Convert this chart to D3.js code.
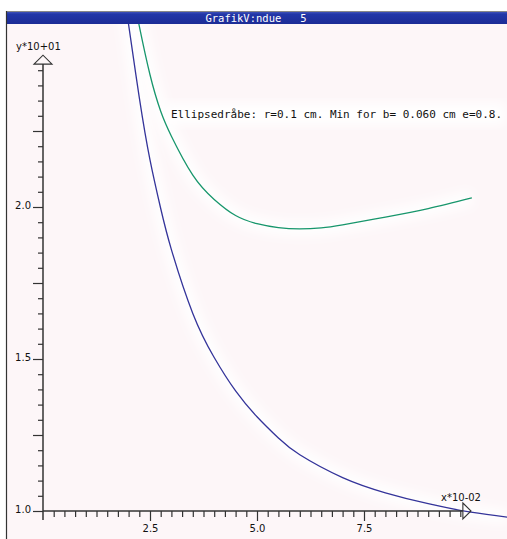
<!DOCTYPE html>
<html><head><meta charset="utf-8">
<script src="https://cdn.jsdelivr.net/npm/d3@7"></script>
<style>html,body{margin:0;padding:0;background:#fff;overflow:hidden}</style>
</head><body>
<script>
const title = "GrafikV:ndue   5";
const annotation = "Ellipsedråbe: r=0.1 cm. Min for b= 0.060 cm e=0.8.";
const yAxisTitle = "y*10+01";
const xAxisTitle = "x*10-02";
const xTickLabels = [2.5, 5.0, 7.5];
const yTickLabels = [1.0, 1.5, 2.0];
const yMajorTicks = [1.25, 1.75, 2.25];
const blueX = [1.93,2.0,2.25,2.5,2.75,3.0,3.5,4.0,4.5,5.0,5.5,6.0,7.0,8.0,9.0,10.0,10.85];
const blueY = [2.67,2.60,2.36,2.155,1.995,1.86,1.65,1.505,1.395,1.31,1.24,1.185,1.11,1.06,1.024,0.996,0.98];
const greenX = [2.2,2.25,2.5,2.75,3.0,3.5,4.0,4.5,5.0,5.5,6.0,6.5,7.0,8.0,9.0,10.02];
const greenY = [2.63,2.595,2.435,2.315,2.233,2.105,2.025,1.972,1.945,1.932,1.928,1.931,1.941,1.967,1.995,2.030];

const W = 507, H = 539;
const svg = d3.select("body").append("svg").attr("width", W).attr("height", H);
const defs = svg.append("defs");
const grad = defs.append("linearGradient").attr("id","tb").attr("x1",0).attr("y1",0).attr("x2",0).attr("y2",1);
grad.append("stop").attr("offset","0%").attr("stop-color","#4a5cc0");
grad.append("stop").attr("offset","25%").attr("stop-color","#2236a8");
grad.append("stop").attr("offset","100%").attr("stop-color","#1c2c96");
defs.append("clipPath").attr("id","clip").append("rect").attr("x",7).attr("y",24).attr("width",W-7).attr("height",H-24);
const blur = defs.append("filter").attr("id","glow").attr("x","-20%").attr("y","-20%").attr("width","140%").attr("height","140%");
blur.append("feGaussianBlur").attr("stdDeviation",6);

// window
svg.append("rect").attr("x",6).attr("y",12).attr("width",W-6).attr("height",H-12).attr("fill","#fdf6f8");
svg.append("rect").attr("x",6).attr("y",11).attr("width",W-6).attr("height",13).attr("fill","url(#tb)");
svg.append("line").attr("x1",6).attr("x2",W).attr("y1",11.5).attr("y2",11.5).attr("stroke","#888");
svg.append("line").attr("x1",6.5).attr("x2",6.5).attr("y1",11).attr("y2",H).attr("stroke","#333").attr("stroke-width",1.2);
svg.append("text").attr("x",256).attr("y",21.5).attr("text-anchor","middle").attr("fill","#fff")
  .attr("font-family","DejaVu Sans Mono").attr("font-size",10.5).attr("xml:space","preserve").text(title);

const x = d3.scaleLinear().domain([0,10]).range([43,471]);
const y = d3.scaleLinear().domain([1,2.5]).range([511,55]);

const g = svg.append("g").attr("clip-path","url(#clip)");
const blueData = blueX.map((v,i)=>[v,blueY[i]]);
const greenData = greenX.map((v,i)=>[v,greenY[i]]);
const lineB = d3.line().x(d=>x(d[0])).y(d=>y(d[1])).curve(d3.curveNatural);
// white halo
g.append("path").datum(blueData).attr("d",lineB).attr("fill","none").attr("stroke","#fff").attr("stroke-width",14).attr("filter","url(#glow)");
g.append("path").datum(greenData).attr("d",lineB).attr("fill","none").attr("stroke","#fff").attr("stroke-width",14).attr("filter","url(#glow)");
g.append("rect").attr("x",165).attr("y",103).attr("width",340).attr("height",22).attr("fill","#fff").attr("filter","url(#glow)");

// axes
const axisColor = "#333";
const yMinor = d3.range(1.05, 2.46, 0.05).map(v=>+v.toFixed(2)).filter(v=>![1.25,1.5,1.75,2.0,2.25].includes(v));
const gy1 = svg.append("g").attr("transform",`translate(${x(0)},0)`)
  .call(d3.axisLeft(y).tickValues(yMinor).tickSize(5).tickFormat(""));
const gy2 = svg.append("g").attr("transform",`translate(${x(0)},0)`)
  .call(d3.axisLeft(y).tickValues(yMajorTicks).tickSize(10).tickFormat(""));
const gy3 = svg.append("g").attr("transform",`translate(${x(0)},0)`)
  .call(d3.axisLeft(y).tickValues(yTickLabels).tickSize(10).tickPadding(2).tickFormat(d3.format(".1f")));
const xMinor = d3.range(0.25, 9.8, 0.25).map(v=>+v.toFixed(2)).filter(v=>!xTickLabels.includes(v));
const gx1 = svg.append("g").attr("transform",`translate(0,${y(1)})`)
  .call(d3.axisBottom(x).tickValues(xMinor).tickSize(6).tickFormat(""));
const gx2 = svg.append("g").attr("transform",`translate(0,${y(1)})`)
  .call(d3.axisBottom(x).tickValues(xTickLabels).tickSize(10).tickPadding(2).tickFormat(d3.format(".1f")));
[gy1,gy2,gy3,gx1,gx2].forEach(a=>{
  a.select(".domain").remove();
  a.selectAll("line").attr("stroke",axisColor).attr("stroke-width",1.2);
  a.selectAll("text").attr("fill","#111").attr("font-family","DejaVu Sans").attr("font-size",10);
});
gy3.selectAll("text").attr("dy","0.1em");
gx2.selectAll("text").attr("dy","0.9em");

// axis lines
svg.append("line").attr("x1",x(0)).attr("x2",x(0)).attr("y1",y(0.97)).attr("y2",y(2.47))
  .attr("stroke",axisColor).attr("stroke-width",1.5);
svg.append("line").attr("x1",x(0)).attr("x2",x(9.81)).attr("y1",y(1)).attr("y2",y(1))
  .attr("stroke",axisColor).attr("stroke-width",1.5);
// arrows
svg.append("path").attr("d",`M${x(0)-9},${y(2.47)} L${x(0)},${y(2.4995)} L${x(0)+9},${y(2.47)} Z`)
  .attr("fill","none").attr("stroke",axisColor).attr("stroke-width",1.1);
svg.append("path").attr("d",`M${x(9.81)},${y(1)-8} L${x(10)},${y(1)} L${x(9.81)},${y(1)+8} Z`)
  .attr("fill","none").attr("stroke",axisColor).attr("stroke-width",1.1);

svg.append("text").attr("x",16).attr("y",50).attr("font-family","DejaVu Sans").attr("font-size",10).attr("fill","#111").text(yAxisTitle);
svg.append("text").attr("x",441).attr("y",501).attr("font-family","DejaVu Sans").attr("font-size",10).attr("fill","#111").text(xAxisTitle);

// curves
g.append("path").datum(blueData).attr("d",lineB).attr("fill","none").attr("stroke","#34349a").attr("stroke-width",1.3);
g.append("path").datum(greenData).attr("d",lineB).attr("fill","none").attr("stroke","#17966c").attr("stroke-width",1.3);

svg.append("text").attr("x",171).attr("y",118).attr("font-family","DejaVu Sans Mono").attr("font-size",10.5)
  .attr("fill","#111").attr("textLength",331).attr("lengthAdjust","spacingAndGlyphs").text(annotation);
</script>
</body></html>
